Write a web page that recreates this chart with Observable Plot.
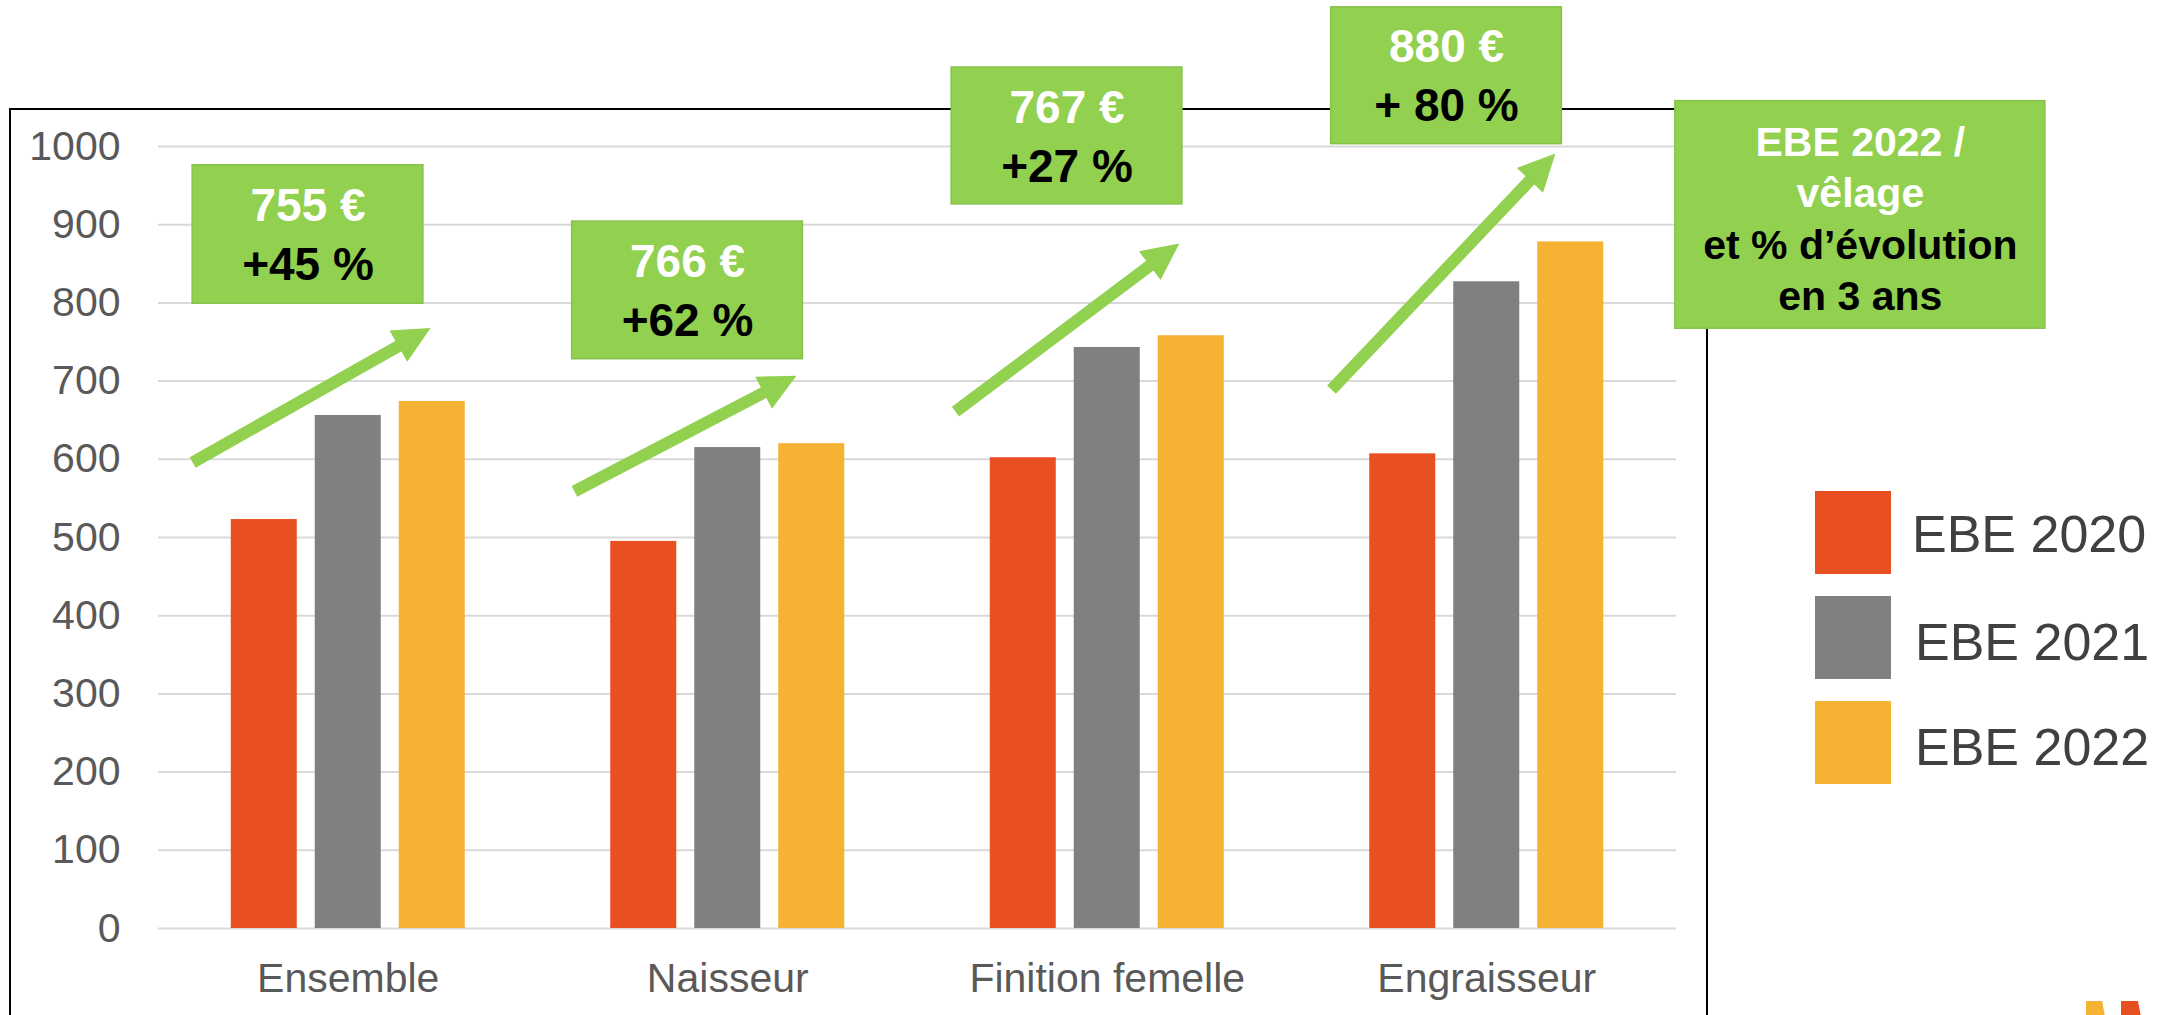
<!DOCTYPE html>
<html>
<head>
<meta charset="utf-8">
<script src="https://cdn.jsdelivr.net/npm/d3@7"></script>
<script src="https://cdn.jsdelivr.net/npm/@observablehq/plot@0.6"></script>
<style>
  html, body { margin: 0; padding: 0; background: #fff; }
  #wrap { position: relative; width: 2169px; height: 1015px; overflow: hidden;
          font-family: "Liberation Sans", Arial, sans-serif; }
  #frame { position: absolute; left: 9px; top: 108px; width: 1695px; height: 1000px;
           border: 2px solid #000; box-sizing: content-box; }
  #chart { position: absolute; left: 0; top: 0; }
  #legend { position: absolute; left: 1815px; top: 491px; }
  .item { position: relative; height: 83px; margin-bottom: 22px; }
  .sw { position: absolute; left: 0; top: 0; width: 76px; height: 83px; }
  .lab { position: absolute; left: 98px; font-size: 52px; line-height: 52px; color: #404040; white-space: nowrap; }
  .logo { position: absolute; top: 1001px; height: 16px; }
</style>
</head>
<body>
<div id="wrap">
  <div id="frame"></div>
  <div id="chart"></div>
  <div id="legend"></div>
  <div class="logo" style="left:2086px;width:19px;background:#F6B333;clip-path:polygon(0 0,85% 0,100% 100%,0 100%)"></div>
  <div class="logo" style="left:2121px;width:20px;background:#E85022;clip-path:polygon(0 0,85% 0,100% 100%,0 100%)"></div>
</div>
<script>
// ---------- data ----------
const categories = ["Ensemble", "Naisseur", "Finition femelle", "Engraisseur"];
const years = ["EBE 2020", "EBE 2021", "EBE 2022"];
const ebe2020 = [523, 495, 602, 607];
const ebe2021 = [656, 615, 743, 827];
const ebe2022 = [674, 620, 758, 878];
const yTicks = [0, 100, 200, 300, 400, 500, 600, 700, 800, 900, 1000];
const amounts = ["755 €", "766 €", "767 €", "880 €"];
const changes = ["+45 %", "+62 %", "+27 %", "+ 80 %"];
const noteWhite = "EBE 2022 /\nvêlage";
const noteBlack = "et % d’évolution\nen 3 ans";

// ---------- styles / layout ----------
const colors = ["#E85022", "#808080", "#F6B333"];
const green = "#92D050", greenEdge = "#86C24A";
const W = 2169, H = 1015, ML = 158, MR = 493, MT = 146, MB = 87;
const xDomain = [-0.5, 3.5], yDomain = [0, 1000];
// annotation placement (category units for x, € units for y)
const boxLeft = -0.41, boxRight = 0.198;
const boxLow = [799, 728, 926, 1003];
const boxHigh = [976, 904, 1101, 1178];
const arrowStartX = [-0.41, -0.404, -0.400, -0.409];
const arrowEndX = [0.217, 0.181, 0.190, 0.181];
const arrowStartY = [596, 559, 661, 689];
const arrowEndY = [768, 707, 876, 991];
const note = {x1: 3.497, x2: 4.472, y1: 767, y2: 1058};

// ---------- tables ----------
const series = [ebe2020, ebe2021, ebe2022];
const rows = categories.flatMap((c, i) => years.map((yr, j) => ({category: c, ci: i, year: yr, value: series[j][i]})));
const slot = d3.scaleBand(years, [-0.3083, 0.3083]).paddingInner(0.214);
const boxes = categories.map((c, i) => ({
  x1: i + boxLeft, x2: i + boxRight, y1: boxLow[i], y2: boxHigh[i],
  xm: i + (boxLeft + boxRight) / 2, ym: (boxLow[i] + boxHigh[i]) / 2,
  amount: amounts[i], change: changes[i]
}));
const arrows = categories.map((c, i) => ({
  x1: i + arrowStartX[i], x2: i + arrowEndX[i], y1: arrowStartY[i], y2: arrowEndY[i]
}));
const X = d3.scaleLinear(xDomain, [ML, W - MR]);
const Y = d3.scaleLinear(yDomain, [H - MB, MT]);
const angle = d => Math.atan2(X(d.x2) - X(d.x1), -(Y(d.y2) - Y(d.y1))) * 180 / Math.PI;

const font = "Liberation Sans, Arial, sans-serif";
const chart = Plot.plot({
  width: W, height: H,
  marginLeft: ML, marginRight: MR, marginTop: MT, marginBottom: MB,
  style: {fontFamily: font, background: "transparent", color: "#595959", overflow: "visible"},
  x: {domain: xDomain},
  y: {domain: yDomain},
  color: {domain: years, range: colors},
  marks: [
    Plot.gridY({ticks: yTicks, stroke: "#d9d9d9", strokeOpacity: 1, strokeWidth: 2}),
    Plot.axisY({ticks: yTicks, tickFormat: d => String(d), tickSize: 0, tickPadding: 38, fontSize: 41, label: null, fill: "#595959"}),
    Plot.axisX({ticks: [0, 1, 2, 3], tickFormat: i => categories[i], tickSize: 0, tickPadding: 34, fontSize: 41, label: null, fill: "#595959"}),
    Plot.rectY(rows, {
      x1: d => d.ci + slot(d.year),
      x2: d => d.ci + slot(d.year) + slot.bandwidth(),
      y: "value", fill: "year"
    }),
    Plot.arrow(arrows, {x1: "x1", y1: "y1", x2: "x2", y2: "y2", stroke: green, strokeWidth: 12,
      headLength: 0, insetEnd: 26, strokeLinecap: "butt"}),
    Plot.vector(arrows, {x: "x2", y: "y2", rotate: angle, length: 37, r: 18, shape: "spike",
      anchor: "end", fill: green, stroke: "none"}),
    Plot.rect(boxes, {x1: "x1", x2: "x2", y1: "y1", y2: "y2", fill: green, stroke: greenEdge, strokeWidth: 1.5}),
    Plot.text(boxes, {x: "xm", y: "ym", text: "amount", dy: -28, fill: "white", fontSize: 46, fontWeight: "bold"}),
    Plot.text(boxes, {x: "xm", y: "ym", text: "change", dy: 31, fill: "black", fontSize: 46, fontWeight: "bold"}),
    Plot.rect([note], {x1: "x1", x2: "x2", y1: "y1", y2: "y2", fill: green, stroke: greenEdge, strokeWidth: 1.5}),
    Plot.text([note], {x: d => (d.x1 + d.x2) / 2, y: d => (d.y1 + d.y2) / 2, text: () => noteWhite,
      dy: -50, lineHeight: 1.26, fill: "white", fontSize: 41, fontWeight: "bold"}),
    Plot.text([note], {x: d => (d.x1 + d.x2) / 2, y: d => (d.y1 + d.y2) / 2, text: () => noteBlack,
      dy: 53, lineHeight: 1.26, fill: "black", fontSize: 41, fontWeight: "bold"})
  ]
});
document.getElementById("chart").appendChild(chart);

// legend
const legend = document.getElementById("legend");
const labelTop = [17, 20, 20];
years.forEach((yr, j) => {
  const item = document.createElement("div");
  item.className = "item";
  item.innerHTML = `<div class="sw" style="background:${colors[j]}"></div><div class="lab" style="top:${labelTop[j]}px;left:${j ? 100 : 97}px">${yr}</div>`;
  legend.appendChild(item);
});
</script>
</body>
</html>
